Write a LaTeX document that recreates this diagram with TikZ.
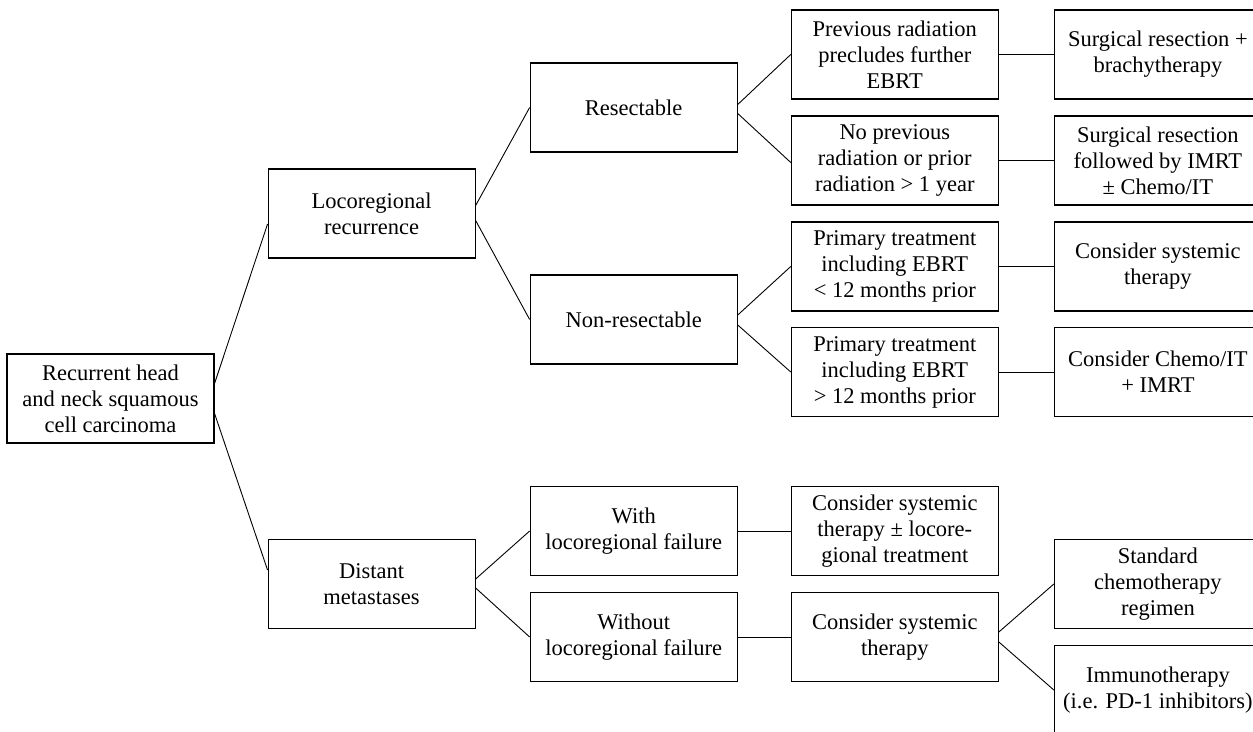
\documentclass[tikz,border=0pt]{standalone}
\usepackage{fontspec}
\setmainfont{Liberation Serif}
\usetikzlibrary{positioning}
\begin{document}
\begin{tikzpicture}
    \tikzstyle{every node}=[font=\fontsize{22.5}{26}\selectfont, align=center]
    \tikzset{
        n/.style={draw, line width=1.1pt, minimum height=89pt, minimum width=207pt, inner sep=0pt},
        link/.style={line width=0.9pt}
        }
    \useasboundingbox (0,0) rectangle (1253pt,-731pt);

    %root
    \node (root) [n] at (110.5pt,-398.5pt) {Recurrent head\\and neck squamous\\cell carcinoma};

    %recurrence type
    \node (loco) [n, right=53pt of root, yshift=185pt] {Locoregional\\recurrence};
    \node (dist) [n, right=53pt of root, yshift=-185.5pt] {Distant\\metastases};

    %locoregional branch
    \node (resect) [n, right=54pt of loco, yshift=106pt] {Resectable};
    \node (nonres) [n, right=54pt of loco, yshift=-106pt] {Non-resectable};

    \node (prev) [n, right=53pt of resect, yshift=53pt] {Previous radiation\\precludes further\\EBRT};
    \node (noprev) [n, right=53pt of resect, yshift=-53pt] {No previous\\radiation or prior\\radiation > 1 year};
    \node (prim1) [n, right=53pt of nonres, yshift=53pt] {Primary treatment\\including EBRT\\< 12 months prior};
    \node (prim2) [n, right=53pt of nonres, yshift=-52.5pt] {Primary treatment\\including EBRT\\> 12 months prior};

    %treatments
    \node (surg1) [n, right=55pt of prev] {Surgical resection +\\brachytherapy};
    \node (surg2) [n, right=55pt of noprev] {Surgical resection\\followed by IMRT\\± Chemo/IT};
    \node (syst1) [n, right=55pt of prim1] {Consider systemic\\therapy};
    \node (chemo) [n, right=55pt of prim2] {Consider Chemo/IT\\+ IMRT};

    %distant branch
    \node (withf) [n, right=54pt of dist, yshift=53pt] {With\\locoregional failure};
    \node (wof) [n, right=54pt of dist, yshift=-53pt] {Without\\locoregional failure};

    \node (syst2) [n, right=53pt of withf] {Consider systemic\\therapy ± locore-\\gional treatment};
    \node (syst3) [n, right=53pt of wof] {Consider systemic\\therapy};

    \node (std) [n, right=55pt of syst3, yshift=53pt] {Standard\\chemotherapy\\regimen};
    \node (immuno) [n, right=55pt of syst3, yshift=-53pt] {Immunotherapy\\(i.e. PD-1 inhibitors)};

    \draw[link] ([yshift=15pt]root.east) -- ([yshift=-10.5pt]loco.west);
    \draw[link] ([yshift=-15pt]root.east) -- ([yshift=14pt]dist.west);

    \draw[link] ([yshift=8pt]loco.east) -- (resect.west);
    \draw[link] ([yshift=-7pt]loco.east) -- (nonres.west);

    \draw[link] ([yshift=3pt]resect.east) -- (prev.west);
    \draw[link] ([yshift=-6pt]resect.east) -- ([yshift=-2pt]noprev.west);
    \draw[link] ([yshift=4.5pt]nonres.east) -- (prim1.west);
    \draw[link] ([yshift=-5.5pt]nonres.east) -- (prim2.west);

    \draw[link] (prev.east) -- (surg1.west);
    \draw[link] (noprev.east) -- (surg2.west);
    \draw[link] (prim1.east) -- (syst1.west);
    \draw[link] (prim2.east) -- (chemo.west);

    \draw[link] ([yshift=5pt]dist.east) -- (withf.west);
    \draw[link] ([yshift=-4pt]dist.east) -- (wof.west);
    \draw[link] (withf.east) -- (syst2.west);
    \draw[link] (wof.east) -- (syst3.west);

    \draw[link] ([yshift=5pt]syst3.east) -- (std.west);
    \draw[link] ([yshift=-5pt]syst3.east) -- (immuno.west);
\end{tikzpicture}
\end{document}
